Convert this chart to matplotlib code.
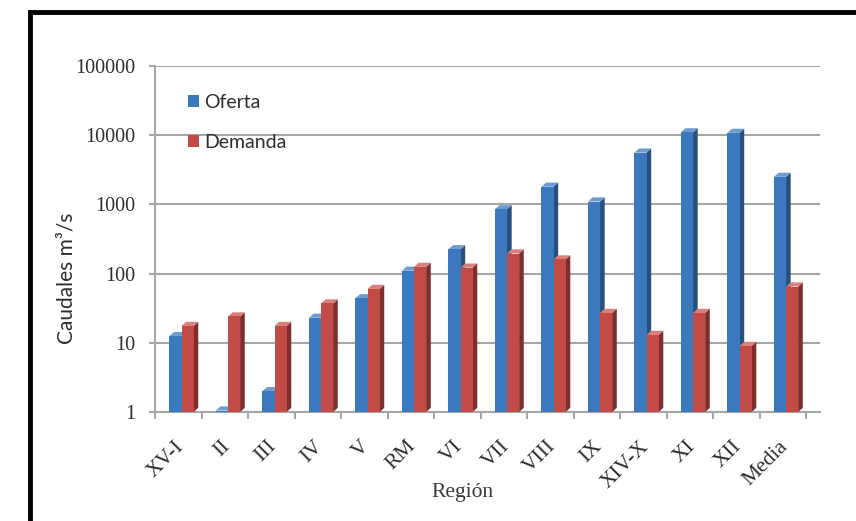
import matplotlib
matplotlib.use("Agg")
import matplotlib.pyplot as plt
import numpy as np
from matplotlib.patches import Rectangle, Polygon
from matplotlib.ticker import FixedLocator, FuncFormatter, NullLocator

regiones = ["XV-I", "II", "III", "IV", "V", "RM", "VI", "VII", "VIII", "IX",
            "XIV-X", "XI", "XII", "Media"]
oferta = [12.5, 1.05, 2.0, 23, 44, 110, 225, 850, 1800, 1100, 5600, 11000, 10800, 2500]
demanda = [17.5, 24, 17.5, 37, 60, 125, 122, 195, 160, 27, 13, 27, 9, 65]
yticks = [1, 10, 100, 1000, 10000, 100000]

BLUE = "#3B78BD"
BLUE_SIDE = "#27507F"
BLUE_TOP = "#6E9BD0"
RED = "#C24A47"
RED_SIDE = "#7E2E2C"
RED_TOP = "#D9807D"
TXT = "#2E2E2E"

fig = plt.figure(figsize=(8.56, 5.21), dpi=100)
ax = fig.add_axes([155/856, 1 - 412/521, (820 - 155)/856, (412 - 66)/521])
ax.set_yscale("log")
ax.set_ylim(1, 100000)
ax.set_xlim(-0.46, 13.8)

x = np.arange(len(regiones))
w = 0.26
depth = 0.10
k = 10 ** 0.06  # vertical shift of the 3D depth in log space


def draw_series(vals, color, side, top, x0off, z):
    for xi, v in zip(x, vals):
        left = xi + x0off
        right = left + w
        ax.add_patch(Polygon([(right, 1), (right, v), (right + depth, v * k),
                              (right + depth, 1 * k)], closed=True,
                             facecolor=side, edgecolor="none", zorder=z))
        ax.add_patch(Polygon([(left, v), (right, v), (right + depth, v * k),
                              (left + depth, v * k)], closed=True,
                             facecolor=top, edgecolor="none", zorder=z))
    bars = ax.bar(x + x0off, np.array(vals) - 1, width=w, bottom=1, align="edge",
                  color=color, edgecolor="none", zorder=z + 0.5)
    return bars


b1 = draw_series(oferta, BLUE, BLUE_SIDE, BLUE_TOP, -0.19, 3)
b2 = draw_series(demanda, RED, RED_SIDE, RED_TOP, 0.07, 4)

# gridlines
for t in yticks:
    ax.axhline(t, color="#A6A6A6", lw=1.5, zorder=1)

ax.yaxis.set_major_locator(FixedLocator(yticks))
ax.yaxis.set_minor_locator(NullLocator())
ax.yaxis.set_major_formatter(FuncFormatter(lambda v, p: f"{int(round(v))}"))
# label anchors placed so rotated labels end just right of the category centre
ax.set_xticks(x - 0.09)
ax.set_xticklabels(regiones, rotation=45, ha="right", rotation_mode="anchor",
                   family="Liberation Serif", fontsize=15.5, color=TXT)
ax.set_xticks(np.arange(len(regiones) + 1) - 0.5, minor=True)
ax.tick_params(axis="x", which="major", length=0, pad=18)
ax.tick_params(axis="x", which="minor", length=5, color="#A6A6A6", width=1.5)
ax.tick_params(axis="y", length=4, color="#A6A6A6", width=1.5, pad=10)
for lab in ax.get_yticklabels():
    lab.set_family("Liberation Serif")
    lab.set_fontsize(14.5)
    lab.set_color(TXT)

for s in ["top", "right"]:
    ax.spines[s].set_visible(False)
for s in ["left", "bottom"]:
    ax.spines[s].set_color("#A6A6A6")
    ax.spines[s].set_linewidth(1.5)

ax.set_ylabel("Caudales m³/s", family="Lato", fontsize=15, color=TXT)
ax.yaxis.set_label_coords(-0.118, 0.387)
ax.set_xlabel("Región", family="Liberation Serif", fontsize=15.5, color="#3A3A3A")
ax.xaxis.set_label_coords(0.462, -0.205)

leg = ax.legend([b1, b2], ["Oferta", "Demanda"], loc="upper left",
                bbox_to_anchor=(0.05, 0.92), frameon=False, borderpad=0,
                borderaxespad=0, handlelength=0.55, handleheight=0.55,
                handletextpad=0.25, labelspacing=1.2,
                prop={"family": "Lato", "size": 14})
for t in leg.get_texts():
    t.set_color(TXT)

# outer black frame
fig.patches.append(Rectangle((30/856, -0.1), 1.2, 1 - 12/521 + 0.1,
                             transform=fig.transFigure, fill=False,
                             edgecolor="black", lw=3.5))

fig.savefig("out.png", dpi=100)
